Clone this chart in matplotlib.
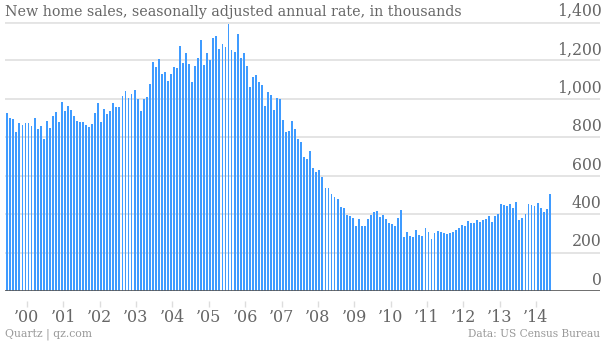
import matplotlib
matplotlib.use("Agg")
import matplotlib.pyplot as plt
import matplotlib.transforms as mtransforms
import numpy as np
import pandas as pd

# New home sales, SAAR, thousands (Jun 1999 - May 2014)
sales = [
    925, 900, 894, 828, 873, 866, 875, 875, 857, 900, 842, 859, 793, 887, 849,
    913, 932, 881, 984, 937, 965, 940, 911, 887, 881, 880, 866, 855, 871, 925, 980,
    880, 946, 923, 937, 979, 958, 958, 1015, 1041, 1005, 1024, 1046, 998, 937, 998,
    1010, 1078, 1192, 1166, 1208, 1130, 1142, 1093, 1130, 1166, 1159, 1275, 1187, 1240, 1182, 1090,
    1173, 1211, 1307, 1176, 1240, 1202, 1317, 1326, 1261, 1284, 1272, 1388, 1256, 1244, 1336, 1213,
    1237, 1173, 1062, 1114, 1123, 1090, 1072, 965, 1036, 1020, 940, 1003, 999, 890, 829, 833,
    885, 842, 791, 777, 698, 687, 729, 640, 619, 628, 592, 536, 536, 505, 488, 477,
    436, 432, 394, 390, 380, 338, 373, 338, 338, 376, 394, 411, 418, 387, 397,
    375, 354, 347, 337, 380, 423, 281, 307, 285, 281, 318, 292, 286, 328, 307, 271,
    302, 312, 307, 302, 297, 302, 307, 318, 328, 342, 337, 366, 354, 354, 370,
    358, 371, 376, 390,
    361, 392, 401, 453, 449, 442, 453, 432, 462, 370, 380, 401, 453, 446, 442, 460, 432, 411, 425, 505,
]
start_month = "1999-06"
y_ticks = [0, 200, 400, 600, 800, 1000, 1200, 1400]

title = "New home sales, seasonally adjusted annual rate, in thousands"
source_left = "Quartz | qz.com"
source_right = "Data: US Census Bureau"

months = pd.period_range(start_month, periods=len(sales), freq="M")
x = np.arange(len(sales))

text_color = "#666666"
grid_color = "#e4e4e4"
bar_color = "#3f9bff"
plt.rcParams["font.family"] = "DejaVu Serif"

fig = plt.figure(figsize=(6.05, 3.44), dpi=100)
ax = fig.add_axes([5 / 605, 53 / 344, 595 / 605, 269 / 344])

ax.bar(x, sales, width=0.62, color=bar_color, zorder=2)

ax.set_xlim(-0.76, 195.6)
ax.set_ylim(0, 1400)

# horizontal grid lines, zero line darker
for v in y_ticks[1:]:
    ax.axhline(v, color=grid_color, lw=1.4 if v < 1400 else 2.0, zorder=1)
ax.axhline(0, color="#555555", lw=1.2, zorder=3)

for s in ax.spines.values():
    s.set_visible(False)
ax.spines["bottom"].set_position(("outward", 7))

# y labels on the right, sitting above each grid line
ax.set_yticks(y_ticks)
ax.set_yticklabels([f"{v:,}" for v in y_ticks])
ax.tick_params(axis="y", left=False, right=False, labelleft=False,
               labelright=True, pad=-2.5, labelsize=11.3, labelcolor=text_color)
offset = mtransforms.ScaledTranslation(0, 1.5 / 72, fig.dpi_scale_trans)
for lab in ax.get_yticklabels():
    lab.set_ha("right")
    lab.set_va("bottom")
    lab.set_transform(lab.get_transform() + offset)

# x ticks at January of each year
jan = [i for i, m in enumerate(months) if m.month == 1]
ax.set_xticks([i - 0.5 for i in jan])
ax.set_xticklabels(["\u2019" + str(months[i].year)[2:] for i in jan])
ax.tick_params(axis="x", length=4, width=1, color="#dddddd", pad=2,
               labelsize=11.5, labelcolor=text_color)

fig.text(5 / 605, 1 - 12 / 344, title, ha="left", va="center",
         fontsize=10.3, color=text_color)
fig.text(5 / 605, 1 - 334 / 344, source_left, ha="left", va="center",
         fontsize=7.8, color="#999999")
fig.text(600 / 605, 1 - 334 / 344, source_right, ha="right", va="center",
         fontsize=7.6, color="#999999")

fig.savefig("out.png", dpi=100)
